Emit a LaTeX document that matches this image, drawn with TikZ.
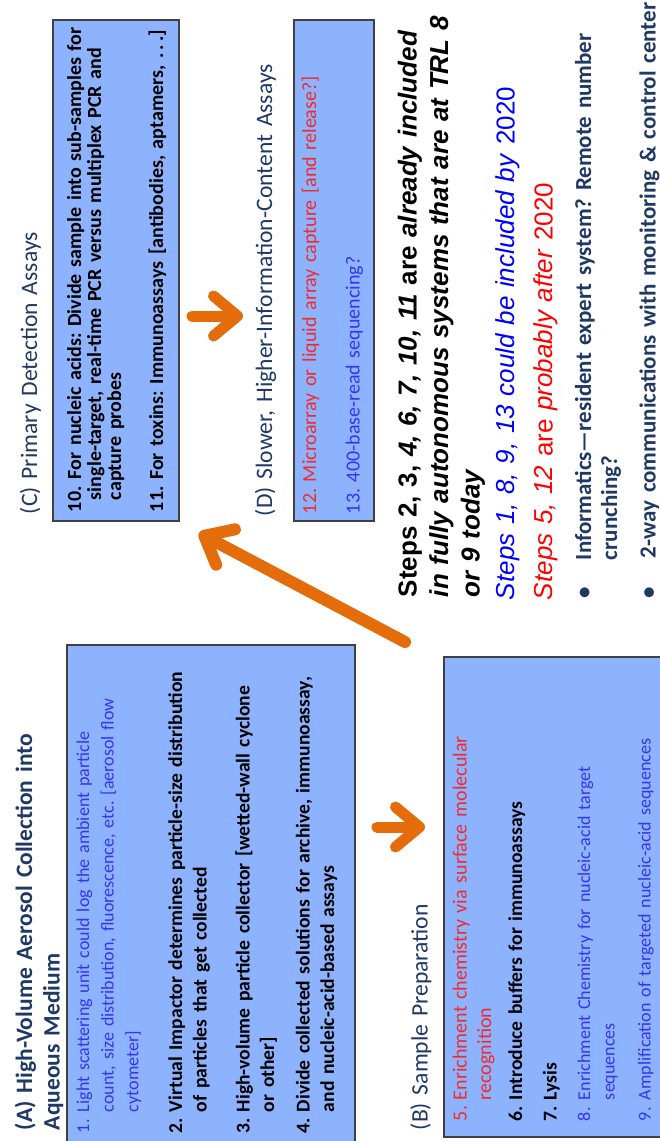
\documentclass[tikz,border=0pt]{standalone}
\usepackage{fontspec}
\setmainfont{Carlito}
\newfontfamily\arialfont{Liberation Sans}
\usetikzlibrary{arrows.meta}

\definecolor{boxfill}{HTML}{8DB3FE}
\definecolor{boxline}{HTML}{404040}
\definecolor{navy}{HTML}{1F3864}
\definecolor{itemblue}{HTML}{3535EE}
\definecolor{itemred}{HTML}{F22A2A}
\definecolor{flow}{HTML}{E46C0A}
\definecolor{stepblue}{HTML}{0000FF}
\definecolor{stepred}{HTML}{FF0000}

\begin{document}
\frenchspacing
\begin{tikzpicture}[x=1pt,y=-1pt,
  panel/.style={draw=boxline, line width=1.5pt, fill=boxfill, anchor=north west, inner sep=0pt},
  txt/.style={rotate=90, anchor=base west, inner sep=0pt, outer sep=0pt, text width=640pt, align=left},
  body/.style={txt, font=\fontsize{20}{24.7}\selectfont},
  small/.style={txt, text=itemblue, font=\fontsize{18}{24.7}\selectfont},
  bodyb/.style={txt, font=\fontsize{19.6}{24.7}\selectfont\bfseries},
  tight/.style={txt, font=\fontsize{20}{20}\selectfont\bfseries},
  head/.style={txt, text=navy, font=\fontsize{23.6}{27.5}\selectfont},
  headb/.style={head, font=\fontsize{23.5}{27.5}\selectfont\bfseries},
  steps/.style={txt, font=\arialfont\fontsize{26}{31.5}\selectfont},
  bul/.style={txt, text=navy, font=\fontsize{23}{26}\selectfont\bfseries},
  flowarrow/.style={draw=flow, line width=11pt, line cap=round,
    -{Straight Barb[length=24pt, width=40pt, line cap=round, line join=round]}}
]
\useasboundingbox (0,0) rectangle (660,1141);

% ---------- panels ----------
\node[panel, minimum width=288pt, minimum height=510pt] (boxA) at (66,644) {};
\node[panel, minimum width=230pt, minimum height=480pt] (boxB) at (443,656) {};
\node[panel, minimum width=126pt, minimum height=501pt] (boxC) at (52,19) {};
\node[panel, minimum width=80pt,  minimum height=501pt] (boxD) at (293,19) {};

% ---------- (A) ----------
\node[headb] (tA) at (32,1130) {(A) High-Volume Aerosol Collection into\\Aqueous Medium};
\node[small] (nA1) at (89,1133) {1.};
\node[small] (iA1) at (89,1112) {Light scattering unit could log the ambient particle\\count, size distribution, fluorescence, etc. [aerosol flow\\cytometer]};
\node[bodyb] (nA2) at (182,1133) {2.};
\node[bodyb] (iA2) at (182,1112) {Virtual Impactor determines particle-size distribution\\of particles that get collected};
\node[bodyb] (nA3) at (249.5,1133) {3.};
\node[bodyb] (iA3) at (249.5,1112) {High-volume particle collector [wetted-wall cyclone\\or other]};
\node[bodyb] (nA4) at (309.5,1133) {4.};
\node[bodyb] (iA4) at (309.5,1112) {Divide collected solutions for archive, immunoassay,\\and nucleic-acid-based assays};

% ---------- (B) ----------
\node[head] (tB) at (427.5,1130) {(B) Sample Preparation};
\node[body, text=itemred] (nB5) at (466.5,1121) {5.};
\node[body, text=itemred] (iB5) at (466.5,1100) {Enrichment chemistry via surface molecular\\recognition};
\node[bodyb] (nB6) at (522,1121) {6.};
\node[bodyb] (iB6) at (522,1100) {Introduce buffers for immunoassays};
\node[bodyb] (nB7) at (556.5,1121) {7.};
\node[bodyb] (iB7) at (556.5,1100) {Lysis};
\node[small] (nB8) at (590,1121) {8.};
\node[small] (iB8) at (590,1100) {Enrichment Chemistry for nucleic-acid target\\sequences};
\node[small] (nB9) at (650.5,1121) {9.};
\node[small] (iB9) at (650.5,1100) {Amplification of targeted nucleic-acid sequences};

% ---------- (C) ----------
\node[head] (tC) at (37,514) {(C) Primary Detection Assays};
\node[tight] (nC10) at (81,512) {10.};
\node[tight] (iC10) at (81,500) {\hspace{21pt}For nucleic acids: Divide sample into sub-samples for\\single-target, real-time PCR versus multiplex PCR and\\capture probes};
\node[tight] (iC11) at (163,512) {11. For toxins: Immunoassays [antibodies, aptamers, .\,.\,.]};

% ---------- (D) ----------
\node[head] (tD) at (272,516) {(D) Slower, Higher-Information-Content Assays};
\node[body, text=itemred] (iD12) at (316,514) {12. Microarray or liquid array capture [and release?]};
\node[body, text=itemblue] (iD13) at (359.5,514) {13. 400-base-read sequencing?};

% ---------- status notes ----------
\node[steps, font=\arialfont\fontsize{26}{31.5}\selectfont\bfseries] (sNow) at (416.5,597)
  {Steps 2, 3, \textit{4, 6, 7, 10, 11} are \textit{already included}\\\textit{in fully autonomous systems that are at TRL 8}\\\textit{or 9 today}};
\node[steps, text=stepblue] (sSoon) at (514.5,600)
  {\textit{Steps 1, 8, 9, 13 could be included by} 2020};
\node[steps, text=stepred] (sLate) at (552.5,600)
  {\textit{Steps 5, 12} are \textit{probably after} 2020};

\node[bul] (b1dot) at (591,598) {\textbullet};
\node[bul] (b1) at (591,560) {Informatics\textemdash resident expert system? Remote number\\crunching?};
\node[bul] (b2dot) at (655.5,598) {\textbullet};
\node[bul] (b2) at (655.5,558) {2-way communications with monitoring \& control center};

% ---------- flow arrows ----------
\coordinate (abTail) at (377,827);
\coordinate (abTip) at (425,827);
\coordinate (cdTail) at (192,316);
\coordinate (cdTip) at (243,316);
\coordinate (bcTail) at (405,642);
\coordinate (bcTip) at (199,533);
\draw[flowarrow] (abTail) -- (abTip);
\draw[flowarrow] (cdTail) -- (cdTip);
\draw[flowarrow, line width=12pt] (bcTail) -- (bcTip);
\end{tikzpicture}
\end{document}
